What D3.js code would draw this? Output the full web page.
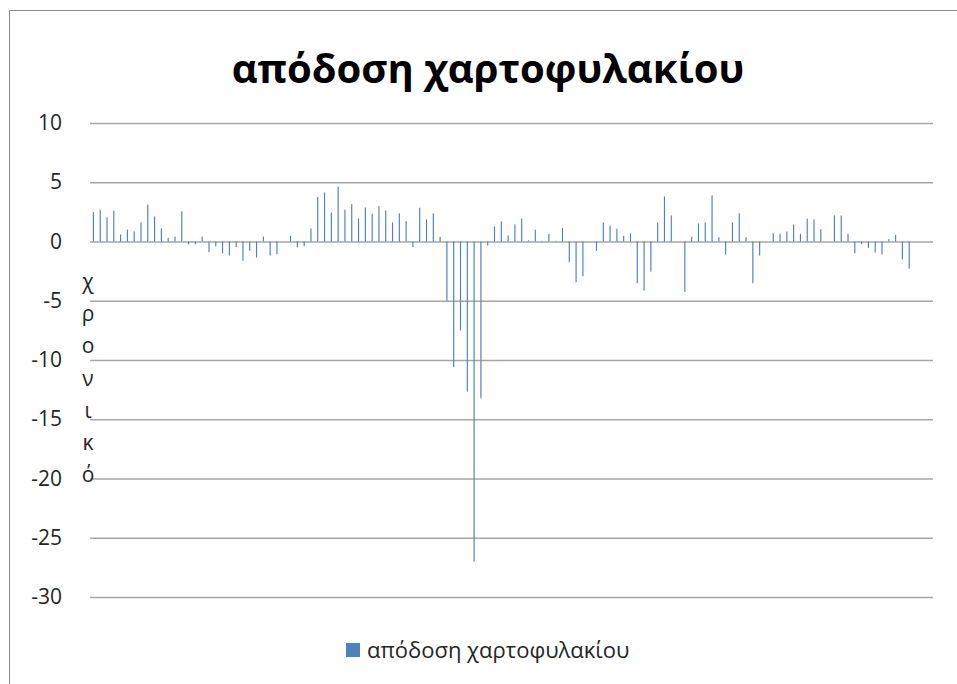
<!DOCTYPE html>
<html>
<head>
<meta charset="utf-8">
<script src="https://cdn.jsdelivr.net/npm/d3@7"></script>
<style>
  body { margin: 0; background: #fff; }
  svg { display: block; font-family: "Open Sans", "Liberation Sans", sans-serif; }
</style>
</head>
<body>
<svg id="chart" width="957" height="684"></svg>
<script>
// chart texts
const chartTitle = "απόδοση χαρτοφυλακίου";
const seriesName = "απόδοση χαρτοφυλακίου";
const axisTitle = "χρονικό";
const yTicks = [10, 5, 0, -5, -10, -15, -20, -25, -30];

// returns, one per period (last three periods are empty)
const returns = [
  2.48, 2.68, 2.03, 2.59, 0.59, 1.01, 0.85, 1.61, 3.13, 2.11,
  1.10, 0.31, 0.42, 2.54, -0.23, -0.23, 0.42, -0.9, -0.4, -1.0,
  -1.18, -0.48, -1.63, -0.79, -1.35, 0.42, -1.18, -1.07, 0, 0.48,
  -0.48, -0.4, 1.10, 3.75, 4.14, 2.45, 4.62, 2.68, 3.15, 1.94,
  2.87, 2.34, 2.99, 2.62, 1.61, 2.37, 1.72, -0.48, 2.85, 1.86,
  2.37, 0.39, -5.0, -10.6, -7.5, -12.67, -27.0, -13.23, -0.35, 1.27,
  1.69, 0.51, 1.44, 1.94, 0.1, 0.99, 0.05, 0.65, 0.05, 1.15,
  -1.75, -3.44, -2.93, 0, -0.79, 1.61, 1.35, 1.07, 0.48, 0.68,
  -3.52, -4.14, -2.54, 1.61, 3.80, 2.2, 0, -4.25, 0.39, 1.52,
  1.61, 3.89, 0.37, -1.1, 1.61, 2.37, 0.37, -3.52, -1.18, 0,
  0.70, 0.65, 0.85, 1.44, 0.65, 1.92, 1.86, 1.04, 0, 2.2,
  2.2, 0.65, -0.99, -0.23, -0.54, -0.93, -1.1, 0.2, 0.56, -1.52,
  -2.28, null, null, null
];
const periods = d3.range(1, returns.length + 1);

const svg = d3.select("#chart");
const plotLeft = 90, plotRight = 933, plotTop = 123, plotBottom = 597;
const barColor = "#4F81BD";

// outer frame
svg.append("path")
  .attr("d", "M9.5,684 V10.5 H957")
  .attr("fill", "none")
  .attr("stroke", "#8c8c8c")
  .attr("stroke-width", 1);

const x = d3.scaleBand()
  .domain(periods)
  .range([plotLeft, plotRight])
  .paddingInner(0.83)
  .paddingOuter(0.415);

const y = d3.scaleLinear()
  .domain([-30, 10])
  .range([plotBottom, plotTop]);

// gridlines + tick labels (plain hyphen minus, like the original)
const yAxis = svg.append("g")
  .attr("transform", `translate(${plotLeft},0)`)
  .call(d3.axisLeft(y)
    .tickValues(yTicks)
    .tickFormat(d => String(d))
    .tickSize(-(plotRight - plotLeft))
    .tickPadding(28));
yAxis.select(".domain").remove();
yAxis.selectAll(".tick line").attr("stroke", "#a6a6a6").attr("stroke-width", 1.3);
yAxis.selectAll(".tick text")
  .attr("fill", "#262626")
  .style("font-size", "21px")
  .style("font-family", "'Open Sans', 'Liberation Sans', sans-serif");

// bars
svg.append("g")
  .selectAll("rect")
  .data(periods.map((p, i) => ({ p, v: returns[i] })).filter(d => d.v !== null))
  .join("rect")
  .attr("x", d => x(d.p))
  .attr("width", x.bandwidth())
  .attr("y", d => y(Math.max(0, d.v)))
  .attr("height", d => Math.abs(y(d.v) - y(0)))
  .attr("fill", barColor);

// title
svg.append("text")
  .attr("x", 488)
  .attr("y", 83)
  .attr("text-anchor", "middle")
  .style("font-size", "40px")
  .style("font-weight", "700")
  .attr("fill", "#000")
  .text(chartTitle);

// stacked vertical axis title
svg.append("g")
  .selectAll("text")
  .data(Array.from(axisTitle))
  .join("text")
  .attr("x", 88)
  .attr("y", (d, i) => 289 + i * 32.2)
  .attr("text-anchor", "middle")
  .style("font-size", "21px")
  .attr("fill", "#262626")
  .text(d => d);

// legend
const legend = svg.append("g").attr("transform", "translate(346,643)");
legend.append("rect").attr("width", 14).attr("height", 14).attr("fill", barColor);
legend.append("text")
  .attr("x", 21)
  .attr("y", 15)
  .style("font-size", "22px")
  .attr("fill", "#262626")
  .text(seriesName);
</script>
</body>
</html>
